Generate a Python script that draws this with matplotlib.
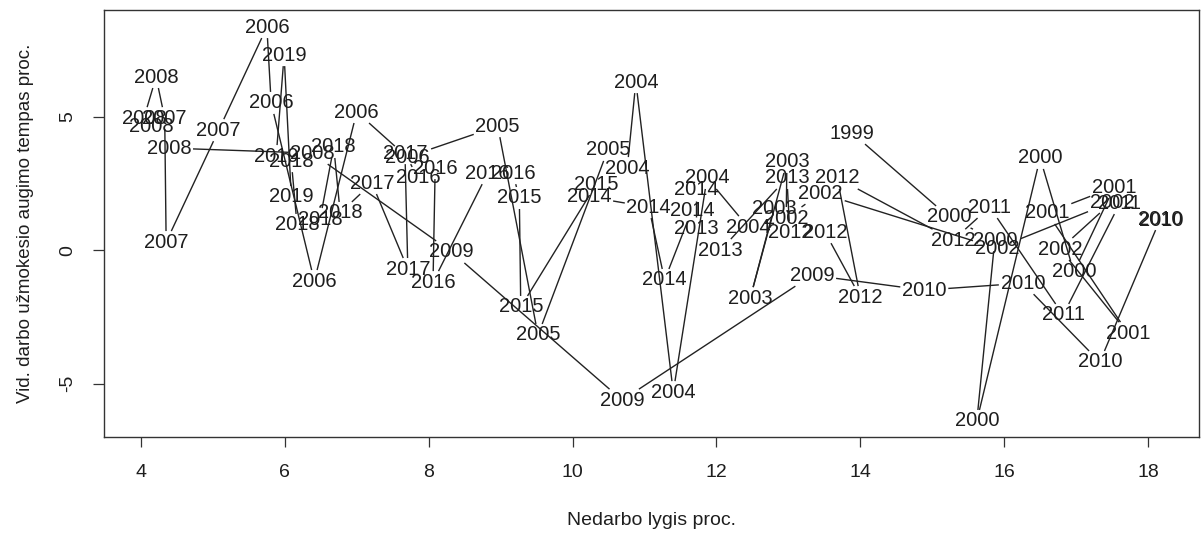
import matplotlib
matplotlib.use("Agg")
import matplotlib.pyplot as plt
import numpy as np
from matplotlib import font_manager

# ---- data (unemployment %, wage growth %, year label), chronological ----
years = [1999,
         2000, 2000, 2000, 2000, 2000,
         2001, 2001, 2001,
         2002, 2002, 2002, 2002, 2002,
         2003, 2003, 2003,
         2004, 2004, 2004, 2004, 2004,
         2005, 2005, 2005,
         2006, 2006, 2006, 2006, 2006,
         2007, 2007, 2007,
         2008, 2008, 2008, 2008, 2008,
         2009, 2009, 2009,
         2010, 2010, 2010, 2010, 2010,
         2011, 2011, 2011,
         2012, 2012, 2012, 2012, 2012,
         2013, 2013, 2013,
         2014, 2014, 2014, 2014, 2014,
         2015, 2015, 2015,
         2016, 2016, 2016, 2016, 2016,
         2017, 2017, 2017,
         2018, 2018, 2018, 2018, 2018,
         2019, 2019, 2019]

unemployment = [13.89,
                15.23, 15.87, 15.62, 16.50, 16.97,
                17.53, 16.60, 17.72,
                16.78, 17.50, 15.90, 13.45, 12.97,
                12.98, 12.47, 12.80,
                12.44, 11.87, 11.40, 10.88, 10.76,
                10.49, 9.52, 8.96,
                7.70, 7.00, 6.41, 5.81, 5.75,
                5.08, 4.35, 4.33,
                4.21, 4.04, 4.15, 4.39, 6.38,
                8.32, 10.69, 13.33,
                14.89, 16.26, 17.33, 18.17, 18.19,
                17.61, 16.82, 15.80,
                15.29, 13.68, 14.00, 13.51, 13.02,
                12.98, 12.06, 11.72,
                11.72, 11.66, 11.28, 11.06, 10.23,
                10.33, 9.28, 9.26,
                9.17, 8.82, 8.06, 8.09, 7.85,
                7.67, 7.71, 7.21,
                6.77, 6.68, 6.49, 6.17, 6.09,
                5.88, 5.99, 6.09]

wage_growth = [4.38,
               1.24, 0.37, -6.40, 3.45, -0.82,
               2.36, 1.39, -3.11,
               0.04, 1.80, 0.07, 2.13, 1.20,
               3.30, -1.80, 1.57,
               0.86, 2.70, -5.32, 6.29, 3.07,
               3.75, -3.18, 4.64,
               3.48, 5.17, -1.16, 5.51, 8.35,
               4.49, 0.30, 4.94,
               6.48, 4.94, 4.61, 3.82, 3.63,
               -0.07, -5.62, -0.94,
               -1.50, -1.24, -4.19, 1.16, 1.12,
               1.76, -2.43, 1.61,
               0.37, 2.70, -1.76, 0.67, 0.67,
               2.70, 0.00, 0.82,
               2.25, 1.50, -1.12, 1.61, 1.99,
               2.47, -2.13, 1.95,
               2.88, 2.88, -1.20, 3.07, 2.70,
               3.63, -0.71, 2.51,
               1.39, 3.86, 1.16, 0.94, 3.33,
               3.52, 7.30, 1.99]

x_ticks = [4, 6, 8, 10, 12, 14, 16, 18]
y_ticks = [-5, 0, 5]
x_label = "Nedarbo lygis proc."
y_label = "Vid. darbo užmokesio augimo tempas proc."

# ---- fonts ----
avail = {f.name for f in font_manager.fontManager.ttflist}
main_font = "Liberation Sans" if "Liberation Sans" in avail else "DejaVu Sans"
narrow_font = "Liberation Sans Narrow" if "Liberation Sans Narrow" in avail else main_font

W, H = 1202, 535
fig = plt.figure(figsize=(W / 100, H / 100), dpi=100)
left, right, top, bottom = 104, 1199, 10, 437
ax = fig.add_axes([left / W, (H - bottom) / H, (right - left) / W, (bottom - top) / H])
ax.set_xlim(3.486, 18.709)
ax.set_ylim(-7.00, 8.99)

ink = "#1e1e1e"
for s in ax.spines.values():
    s.set_color("#333333")
    s.set_linewidth(1.0)

ax.set_xticks(x_ticks)
ax.set_xticklabels([str(t) for t in x_ticks], fontfamily=narrow_font, fontsize=14, color=ink)
ax.set_yticks(y_ticks)
ax.set_yticklabels([str(t) for t in y_ticks], fontfamily=main_font, fontsize=14, color=ink,
                   rotation=90, va="center")
ax.tick_params(axis="x", direction="out", length=7.5, width=0.9, color="#333333", pad=12)
ax.tick_params(axis="y", direction="out", length=8, width=0.9, color="#333333", pad=12)

ax.set_xlabel(x_label, fontfamily=narrow_font, fontsize=14, color=ink, labelpad=22)
ax.set_ylabel(y_label, fontfamily=main_font, fontsize=13.5, color=ink, labelpad=18)

# ---- connecting lines with gaps around labels (like R type="c") ----
fig.canvas.draw()
pts = ax.transData.transform(np.column_stack([unemployment, wage_growth]))
inv = ax.transData.inverted()
hw, hh = 24.0, 11.0  # half-size of label gap (pixels)

def exit_t(dx, dy):
    ts = []
    if abs(dx) > 1e-9:
        ts.append(hw / abs(dx))
    if abs(dy) > 1e-9:
        ts.append(hh / abs(dy))
    return min(ts) if ts else 1.0

for i in range(len(pts) - 1):
    p, q = pts[i], pts[i + 1]
    dx, dy = q - p
    t0 = exit_t(dx, dy)
    t1 = 1 - exit_t(dx, dy)
    if t0 >= t1:
        continue
    a = inv.transform(p + t0 * (q - p))
    b = inv.transform(p + t1 * (q - p))
    ax.plot([a[0], b[0]], [a[1], b[1]], color="#222222", lw=1.0, solid_capstyle="butt")

for xv, yv, lab in zip(unemployment, wage_growth, years):
    ax.text(xv, yv, str(lab), ha="center", va="center", fontfamily=main_font,
            fontsize=14.5, color=ink)

fig.savefig("out.png", dpi=100)
